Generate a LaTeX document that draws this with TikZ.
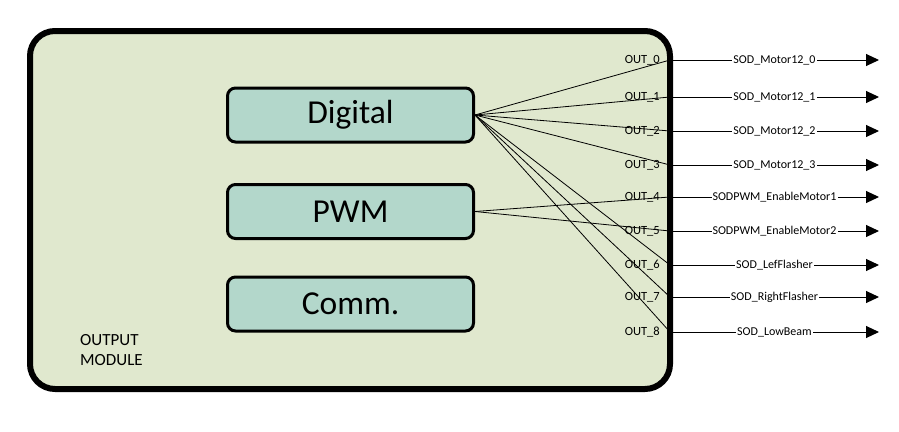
\documentclass[tikz,border=0pt]{standalone}
\usepackage{fontspec}
\setmainfont{Carlito}
\usetikzlibrary{arrows.meta}

\tikzset{
    module/.style={draw=black, line width=6pt, fill=moduleGreen, rounded corners=25pt},
    block/.style={draw=black, line width=3pt, fill=blockTeal, rounded corners=8pt,
        minimum width=246pt, minimum height=54pt, inner sep=0pt,
        font=\fontsize{33.5}{36}\selectfont},
    wire/.style={draw=black, line width=0.8pt},
    signal/.style={draw=black, line width=1pt, -{Triangle[length=13pt,width=12pt]}},
    portlabel/.style={anchor=base east, inner sep=0pt, font=\fontsize{12.5}{14}\selectfont},
    signallabel/.style={fill=white, inner sep=1pt, font=\fontsize{12}{14}\selectfont}
}
\definecolor{moduleGreen}{HTML}{E0E8CE}
\definecolor{blockTeal}{HTML}{B3D7CB}

\begin{document}
\begin{tikzpicture}[x=1pt, y=-1pt]
    \useasboundingbox (0,0) rectangle (899,431);
    \def\portX{670}
    \def\tipX{879}

    % Output module
    \draw[module] (30,31) rectangle (\portX,389);
    \node[anchor=north west, align=left, inner sep=0pt,
        font=\fontsize{17}{20}\selectfont] (moduleName) at (80,334)
        {OUTPUT\\MODULE};

    % Blocks
    \node[block] (digital) at (350.5,115) {Digital};
    \node[block] (pwm) at (350.5,211.5) {PWM};
    \node[block] (comm) at (350.5,304) {Comm.};

    % Outputs
    \foreach \i/\y/\src/\name in {
        0/60/digital/SOD\_Motor12\_0,
        1/97/digital/SOD\_Motor12\_1,
        2/131/digital/SOD\_Motor12\_2,
        3/165/digital/SOD\_Motor12\_3,
        4/197/pwm/SODPWM\_EnableMotor1,
        5/231/pwm/SODPWM\_EnableMotor2,
        6/265/digital/SOD\_LefFlasher,
        7/297/digital/SOD\_RightFlasher,
        8/332/digital/SOD\_LowBeam} {
        \coordinate (out\i) at (\portX,\y);
        \coordinate (tip\i) at (\tipX,\y);
        \node[portlabel] (outLabel\i) at (660,\y+3) {OUT\_\i};
        \draw[wire] (\src.east) -- (out\i);
        \draw[signal] (out\i) -- node[signallabel] (sig\i) {\name} (tip\i);
    }
\end{tikzpicture}
\end{document}
